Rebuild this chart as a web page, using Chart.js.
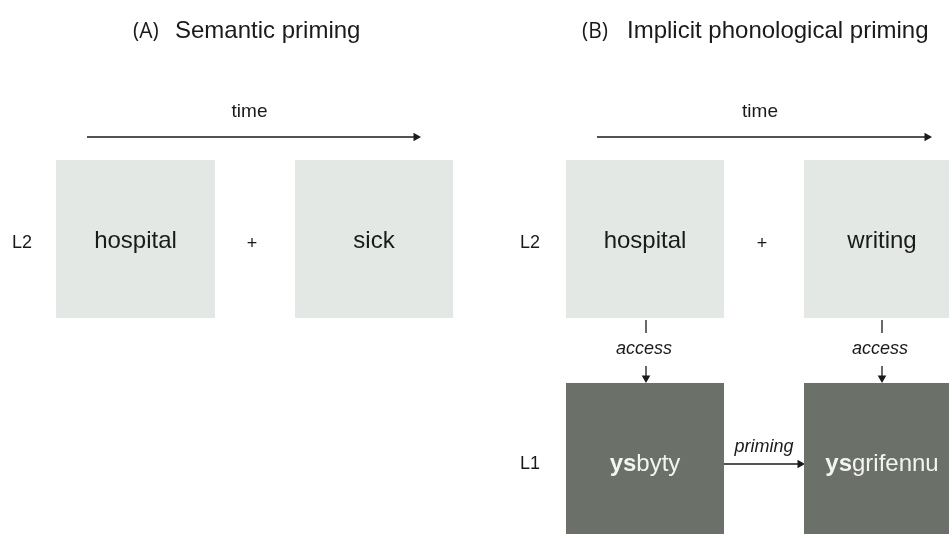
<!DOCTYPE html>
<html>
<head>
<meta charset="utf-8">
<script src="https://cdn.jsdelivr.net/npm/chart.js@4"></script>
<style>
  html, body { margin: 0; padding: 0; background: #fff; }
  #wrap { width: 949px; height: 534px; }
</style>
</head>
<body>
<div id="wrap"><canvas id="primingChart" width="949" height="534"></canvas></div>
<script>
// diagram units: x 0..949, y 0..534 (top to bottom)
const lightBoxes = [[56, 215, 160, 318], [295, 453, 160, 318], [566, 724, 160, 318], [804, 949, 160, 318]];
const darkBoxes = [[566, 724, 383, 534], [804, 949, 383, 534]];
const l2Words = ['hospital', 'sick', 'hospital', 'writing'];
const l1Words = [['ys', 'byty'], ['ys', 'grifennu']];
const timeArrows = [[87, 420, 137], [597, 931, 137]];
const accessX = [646, 882];
const accessY = [320, 333, 366, 382];
const primingArrow = [724, 804, 464];
const plusX = [252, 762];
const rowLabels = ['L2', 'L2', 'L1'];
const rowLabelX = [22, 530, 530];
const rowLabelY = [243, 243, 464];
const panelTags = ['(A)', '(B)'];
const panelTitles = ['Semantic priming', 'Implicit phonological priming'];
const panelTagX = [133, 582];
const panelTitleX = [175, 627];

const LIGHT = '#e3e8e4';
const DARK = '#6b7068';
const INK = '#1a1a1a';
const SANS = '"Liberation Sans", Arial, sans-serif';

var datasets = [];

// boxes: top edge as a line, filled down to the bottom edge value
function addBox(b, colour) {
    datasets.push({
        data: [{ x: b[0], y: b[2] }, { x: b[1], y: b[2] }],
        showLine: true,
        borderWidth: 0,
        borderColor: colour,
        backgroundColor: colour,
        pointRadius: 0,
        fill: { value: b[3] }
    });
}
lightBoxes.forEach(b => addBox(b, LIGHT));
darkBoxes.forEach(b => addBox(b, DARK));

function addLine(p0, p1, head, rot) {
    datasets.push({
        data: [p0, p1],
        showLine: true,
        borderColor: INK,
        backgroundColor: INK,
        borderWidth: 1.3,
        fill: false,
        pointRadius: [0, head ? 5 : 0],
        pointStyle: 'triangle',
        rotation: rot || 0,
        pointBorderWidth: 0
    });
}
timeArrows.forEach(a => addLine({ x: a[0], y: a[2] }, { x: a[1] - 4, y: a[2] }, true, 90));
accessX.forEach(x => {
    addLine({ x: x, y: accessY[0] }, { x: x, y: accessY[1] }, false);
    addLine({ x: x, y: accessY[2] }, { x: x, y: accessY[3] - 4 }, true, 180);
});
addLine({ x: primingArrow[0], y: primingArrow[2] }, { x: primingArrow[1] - 4, y: primingArrow[2] }, true, 90);

const textPlugin = {
    id: 'diagramText',
    afterDatasetsDraw(chart) {
        const c = chart.ctx;
        const xs = chart.scales.x, ys = chart.scales.y;
        const px = v => xs.getPixelForValue(v);
        const py = v => ys.getPixelForValue(v);
        c.save();
        c.fillStyle = INK;

        // panel titles, sharing one baseline
        c.textAlign = 'left';
        c.textBaseline = 'alphabetic';
        panelTags.forEach((t, i) => {
            c.font = '21px "Open Sans", ' + SANS;
            c.fillText(t, px(panelTagX[i]), py(38));
            c.font = '24px ' + SANS;
            c.fillText(panelTitles[i], px(panelTitleX[i]), py(38));
        });

        c.textBaseline = 'middle';
        // time labels
        c.textAlign = 'center';
        c.font = '19px ' + SANS;
        timeArrows.forEach(a => c.fillText('time', px((a[0] + a[1]) / 2 - 4), py(112)));

        // row labels and plus signs
        c.font = '18px ' + SANS;
        rowLabels.forEach((t, i) => c.fillText(t, px(rowLabelX[i]), py(rowLabelY[i])));
        plusX.forEach(x => c.fillText('+', px(x), py(244)));

        // L2 words
        c.font = '24px ' + SANS;
        l2Words.forEach((w, i) => {
            const b = lightBoxes[i];
            const cx = i === 3 ? 882 : (b[0] + b[1]) / 2;
            c.fillText(w, px(cx), py(241));
        });

        // italic connector labels
        c.font = 'italic 18px ' + SANS;
        accessX.forEach(x => c.fillText('access', px(x - 2), py(349)));
        c.fillText('priming', px((primingArrow[0] + primingArrow[1]) / 2), py(447));

        // L1 words, bold prefix
        c.fillStyle = '#f4f4f2';
        c.textAlign = 'left';
        l1Words.forEach((w, i) => {
            const b = darkBoxes[i];
            const cx = i === 1 ? 882 : (b[0] + b[1]) / 2;
            c.font = 'bold 24px ' + SANS;
            const w1 = c.measureText(w[0]).width;
            c.font = '24px ' + SANS;
            const w2 = c.measureText(w[1]).width;
            let x0 = px(cx) - (w1 + w2) / 2;
            c.font = 'bold 24px ' + SANS;
            c.fillText(w[0], x0, py(464));
            c.font = '24px ' + SANS;
            c.fillText(w[1], x0 + w1, py(464));
        });
        c.restore();
    }
};

var ctx = document.getElementById('primingChart').getContext('2d');
var diagram = new Chart(ctx, {
    type: 'scatter',
    data: { datasets: datasets },
    options: {
        responsive: false,
        animation: false,
        layout: { padding: 0, autoPadding: false },
        scales: {
            x: { type: 'linear', min: 0, max: 949, display: false },
            y: { type: 'linear', min: 0, max: 534, reverse: true, display: false }
        },
        plugins: {
            legend: { display: false },
            tooltip: { enabled: false }
        }
    },
    plugins: [textPlugin]
});
</script>
</body>
</html>
